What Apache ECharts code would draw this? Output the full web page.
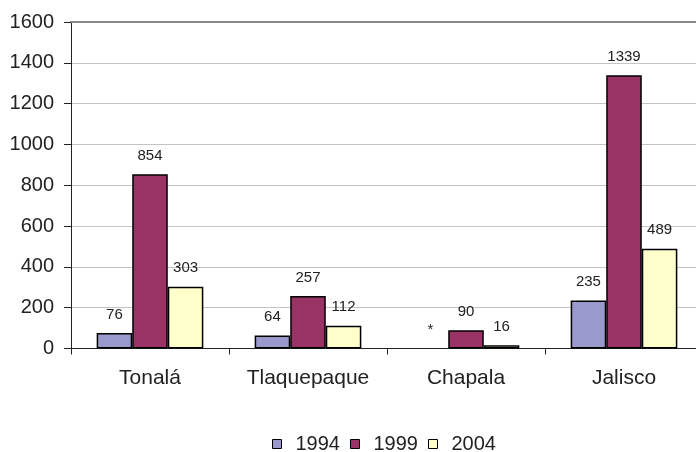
<!DOCTYPE html>
<html>
<head>
<meta charset="utf-8">
<script src="https://cdn.jsdelivr.net/npm/echarts@6/dist/echarts.min.js"></script>
<style>
  html, body { margin: 0; padding: 0; background: #fff; }
  #chart { width: 696px; height: 452px; }
</style>
</head>
<body>
<div id="chart"></div>
<script>
// Municipalities and the three survey years
const categories = ['Tonalá', 'Tlaquepaque', 'Chapala', 'Jalisco'];
const years = ['1994', '1999', '2004'];
// null = no figure available (shown as "*")
const values1994 = [76, 64, null, 235];
const values1999 = [854, 257, 90, 1339];
const values2004 = [303, 112, 16, 489];
const yTicks = [0, 200, 400, 600, 800, 1000, 1200, 1400, 1600];

const colors = ['#9999cc', '#993366', '#ffffcc'];
const FONT = 'Liberation Sans, Arial, sans-serif';

function toData(arr) {
  return arr.map(v => v === null
    ? { value: 0, itemStyle: { color: 'transparent', borderWidth: 0 }, label: { formatter: '*' } }
    : v);
}

function barSeries(name, arr, color) {
  return {
    name: name,
    type: 'bar',
    data: toData(arr),
    barGap: '0%',
    barCategoryGap: '32.5%',
    itemStyle: { color: color, borderColor: '#000', borderWidth: 1.5 },
    label: {
      show: true,
      position: 'top',
      distance: 11,
      fontFamily: FONT,
      fontSize: 15,
      color: '#222'
    }
  };
}

const chart = echarts.init(document.getElementById('chart'), null, { renderer: 'canvas' });
chart.setOption({
  animation: false,
  backgroundColor: '#fff',
  grid: {
    left: 71, top: 22, width: 632, bottom: 103.5,
    containLabel: false, outerBoundsMode: 'none'
  },
  legend: {
    data: years,
    top: 429,
    left: 267,
    itemWidth: 9,
    itemHeight: 9,
    itemGap: 10,
    icon: 'rect',
    itemStyle: { borderColor: '#000', borderWidth: 1 },
    textStyle: { fontFamily: FONT, fontSize: 20, color: '#222', padding: [0, 0, 0, 9] }
  },
  xAxis: [{
    type: 'category',
    data: categories,
    axisLine: { lineStyle: { color: '#222', width: 1 } },
    axisTick: { show: true, length: 6, lineStyle: { color: '#222' } },
    axisLabel: { fontFamily: FONT, fontSize: 21, color: '#222', margin: 19, interval: 0 }
  }, {
    // frame line along the top of the plot area
    type: 'category',
    data: categories,
    position: 'top',
    axisLine: { lineStyle: { color: '#888', width: 2 } },
    axisTick: { show: false },
    axisLabel: { show: false }
  }],
  yAxis: {
    type: 'value',
    min: yTicks[0],
    max: yTicks[yTicks.length - 1],
    interval: yTicks[1] - yTicks[0],
    axisLine: { show: true, lineStyle: { color: '#222', width: 1 } },
    axisTick: { show: true, length: 7, lineStyle: { color: '#222' } },
    axisLabel: {
      fontFamily: FONT, fontSize: 20, color: '#222', margin: 17,
      formatter: v => String(v)
    },
    splitLine: { show: true, lineStyle: { color: '#c4c4c4', width: 1 } }
  },
  series: [
    barSeries(years[0], values1994, colors[0]),
    barSeries(years[1], values1999, colors[1]),
    barSeries(years[2], values2004, colors[2])
  ]
});
</script>
</body>
</html>
